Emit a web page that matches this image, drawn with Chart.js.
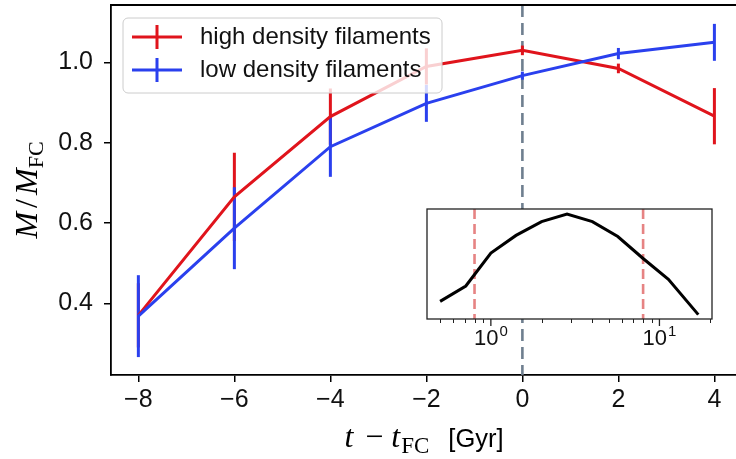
<!DOCTYPE html>
<html>
<head>
<meta charset="utf-8">
<script src="https://cdn.jsdelivr.net/npm/chart.js@4.4.1/dist/chart.umd.min.js"></script>
<style>
body { margin: 0; background: #fff; }
#wrap { position: relative; width: 736px; height: 459px; overflow: hidden; }
#mainChart { position: absolute; left: 0; top: 0; }
#insetChart { position: absolute; left: 420px; top: 200px; }
</style>
</head>
<body>
<div id="wrap">
  <canvas id="mainChart" width="736" height="459"></canvas>
  <canvas id="insetChart" width="310" height="155"></canvas>
</div>
<script>
// main panel: mass relative to filament-crossing mass vs time
const times = [-8, -6, -4, -2, 0, 2, 4];
const highMass = [0.37, 0.665, 0.865, 0.99, 1.03, 0.985, 0.866];
const highErr = [0.08, 0.11, 0.07, 0.045, 0.012, 0.012, 0.07];
const lowMass = [0.368, 0.587, 0.79, 0.898, 0.967, 1.022, 1.05];
const lowErr = [0.102, 0.102, 0.075, 0.046, 0.01, 0.014, 0.046];
const xTicks = [-8, -6, -4, -2, 0, 2, 4];
const yTicks = [0.4, 0.6, 0.8, 1.0];
const markTime = 0;

// inset: distribution (log x)
const insetX = [0.5, 0.71, 1.0, 1.41, 2.0, 2.83, 4.0, 5.66, 8.0, 11.3, 17.0];
const insetY = [0.16, 0.30, 0.60, 0.76, 0.885, 0.955, 0.885, 0.75, 0.55, 0.36, 0.04];
const insetMarks = [0.8, 8.0];
const insetMajor = [1, 10];
const insetMinor = [0.5, 0.6, 0.7, 0.8, 0.9, 2, 3, 4, 5, 6, 7, 8, 9, 20];

const RED = '#e0141c';
const BLUE = '#2a40ee';
const SANS = '"Liberation Sans", Arial, sans-serif';
const SERIF = '"Liberation Serif", "Times New Roman", serif';

const series = [
  { label: 'high density filaments', color: RED, y: highMass, err: highErr },
  { label: 'low density filaments', color: BLUE, y: lowMass, err: lowErr }
];

const mainDecor = {
  id: 'mainDecor',
  beforeDatasetsDraw(chart) {
    const { ctx, chartArea: a, scales: { x, y } } = chart;
    // vertical marker at t = t_FC
    ctx.save();
    ctx.strokeStyle = '#6f7f8f';
    ctx.lineWidth = 2.6;
    ctx.setLineDash([12, 6]);
    const mx = x.getPixelForValue(markTime);
    ctx.beginPath();
    ctx.moveTo(mx, a.top);
    ctx.lineTo(mx, a.bottom);
    ctx.stroke();
    ctx.restore();
    // error bars
    ctx.save();
    ctx.lineWidth = 3;
    series.forEach(s => {
      ctx.strokeStyle = s.color;
      times.forEach((t, i) => {
        const px = x.getPixelForValue(t);
        ctx.beginPath();
        ctx.moveTo(px, y.getPixelForValue(s.y[i] - s.err[i]));
        ctx.lineTo(px, y.getPixelForValue(s.y[i] + s.err[i]));
        ctx.stroke();
      });
    });
    ctx.restore();
  },
  afterDatasetsDraw(chart) {
    const { ctx } = chart;
    ctx.save();
    // legend box
    const bx = 123, by = 18, bw = 319, bh = 75, r = 5;
    ctx.beginPath();
    ctx.roundRect(bx, by, bw, bh, r);
    ctx.fillStyle = 'rgba(255,255,255,0.8)';
    ctx.fill();
    ctx.strokeStyle = '#cccccc';
    ctx.lineWidth = 1;
    ctx.stroke();
    series.forEach((s, i) => {
      const cy = 37 + i * 33;
      ctx.strokeStyle = s.color;
      ctx.lineWidth = 3;
      ctx.beginPath();
      ctx.moveTo(132, cy);
      ctx.lineTo(182, cy);
      ctx.moveTo(157, cy - 12);
      ctx.lineTo(157, cy + 12);
      ctx.stroke();
      ctx.fillStyle = '#111';
      ctx.font = '24px ' + SANS;
      ctx.textBaseline = 'middle';
      ctx.textAlign = 'left';
      ctx.fillText(s.label, 200, cy);
    });
    ctx.restore();
  },
  afterDraw(chart) {
    const { ctx, chartArea: a } = chart;
    ctx.save();
    ctx.strokeStyle = '#000';
    ctx.lineWidth = 1.8;
    ctx.beginPath();
    ctx.moveTo(a.left, a.top);
    ctx.lineTo(a.right + 2, a.top);
    ctx.stroke();

    ctx.fillStyle = '#000';
    ctx.textBaseline = 'alphabetic';
    ctx.textAlign = 'left';
    // x title: t - t_FC [Gyr]
    const xParts = [
      { t: 't', f: 'italic 32px ' + SERIF, dy: 0, gap: 12 },
      { t: '\u2212', f: '32px ' + SERIF, dy: 0, gap: 8 },
      { t: 't', f: 'italic 32px ' + SERIF, dy: 0, gap: 1 },
      { t: 'FC', f: '23px ' + SERIF, dy: 6, gap: 19 },
      { t: '[Gyr]', f: '25.5px ' + SANS, dy: 0, gap: 0 }
    ];
    drawParts(ctx, xParts, (a.left + 737) / 2, 447);
    // y title: M / M_FC (rotated)
    ctx.translate(37, (a.top + a.bottom) / 2);
    ctx.rotate(-Math.PI / 2);
    const yParts = [
      { t: 'M', f: 'italic 32px ' + SERIF, dy: 0, gap: 4 },
      { t: '/', f: '32px ' + SERIF, dy: 0, gap: 4 },
      { t: 'M', f: 'italic 32px ' + SERIF, dy: 0, gap: 0 },
      { t: 'FC', f: '22px ' + SERIF, dy: 6, gap: 0 }
    ];
    drawParts(ctx, yParts, 0, 0);
    ctx.restore();
  }
};

function drawParts(ctx, parts, cx, baseY) {
  let total = 0;
  parts.forEach(p => { ctx.font = p.f; p.w = ctx.measureText(p.t).width; total += p.w + p.gap; });
  let px = cx - total / 2;
  parts.forEach(p => {
    ctx.font = p.f;
    ctx.fillText(p.t, px, baseY + p.dy);
    px += p.w + p.gap;
  });
}

new Chart(document.getElementById('mainChart').getContext('2d'), {
  type: 'line',
  data: {
    datasets: series.map((s, i) => ({
      label: s.label,
      data: times.map((t, k) => ({ x: t, y: s.y[k] })),
      borderColor: s.color,
      borderWidth: 3,
      pointRadius: 0,
      tension: 0,
      fill: false,
      order: i === 0 ? 1 : 0
    }))
  },
  options: {
    responsive: false,
    animation: false,
    devicePixelRatio: 1,
    layout: { padding: { top: 5, right: 0, left: 0, bottom: 0 } },
    plugins: { legend: { display: false }, tooltip: { enabled: false } },
    scales: {
      x: {
        type: 'linear',
        min: -8.57,
        max: 4.45,
        afterBuildTicks: s => { s.ticks = xTicks.map(v => ({ value: v })); },
        afterFit: s => { s.height = 84; s.paddingLeft = 0; s.paddingRight = 0; },
        ticks: {
          font: { family: SANS, size: 25 },
          color: '#111',
          padding: 3,
          maxRotation: 0,
          autoSkip: false,
          callback: v => (v < 0 ? '\u2212' + Math.abs(v) : String(v))
        },
        grid: { drawOnChartArea: false, tickLength: 7, color: '#000', lineWidth: 1.5 },
        border: { color: '#000', width: 1.8 }
      },
      y: {
        min: 0.2214,
        max: 1.143,
        afterBuildTicks: s => { s.ticks = yTicks.map(v => ({ value: v })); },
        afterFit: s => { s.width = 111; s.paddingTop = 0; s.paddingBottom = 0; },
        ticks: {
          font: { family: SANS, size: 25 },
          color: '#111',
          padding: 11,
          autoSkip: false,
          callback: v => v.toFixed(1)
        },
        grid: { drawOnChartArea: false, tickLength: 7, color: '#000', lineWidth: 1.5 },
        border: { color: '#000', width: 1.8 }
      }
    }
  },
  plugins: [mainDecor]
});

const insetDecor = {
  id: 'insetDecor',
  beforeDraw(chart) {
    const { ctx, chartArea: a } = chart;
    ctx.save();
    ctx.fillStyle = '#fff';
    ctx.fillRect(a.left, a.top, a.right - a.left, a.bottom - a.top);
    ctx.restore();
  },
  beforeDatasetsDraw(chart) {
    const { ctx, chartArea: a, scales: { x } } = chart;
    ctx.save();
    ctx.strokeStyle = 'rgba(222,90,90,0.75)';
    ctx.lineWidth = 2.6;
    ctx.setLineDash([10, 5]);
    insetMarks.forEach(v => {
      const px = x.getPixelForValue(v);
      ctx.beginPath();
      ctx.moveTo(px, a.top);
      ctx.lineTo(px, a.bottom);
      ctx.stroke();
    });
    ctx.restore();
  },
  afterDraw(chart) {
    const { ctx, chartArea: a, scales: { x } } = chart;
    ctx.save();
    ctx.strokeStyle = '#222';
    ctx.lineWidth = 1.3;
    ctx.strokeRect(a.left, a.top, a.right - a.left, a.bottom - a.top);
    ctx.lineWidth = 1;
    insetMinor.forEach(v => {
      const px = Math.round(x.getPixelForValue(v)) + 0.5;
      ctx.beginPath();
      ctx.moveTo(px, a.bottom);
      ctx.lineTo(px, a.bottom + 4);
      ctx.stroke();
    });
    ctx.lineWidth = 1.3;
    ctx.fillStyle = '#111';
    ctx.textBaseline = 'alphabetic';
    ctx.textAlign = 'left';
    insetMajor.forEach(v => {
      const px = x.getPixelForValue(v);
      ctx.beginPath();
      ctx.moveTo(px, a.bottom);
      ctx.lineTo(px, a.bottom + 7);
      ctx.stroke();
      const exp = String(Math.round(Math.log10(v)));
      ctx.font = '22px ' + SANS;
      const w1 = ctx.measureText('10').width;
      ctx.font = '15px ' + SANS;
      const w2 = ctx.measureText(exp).width;
      const sx = px - (w1 + w2 + 1) / 2;
      ctx.font = '22px ' + SANS;
      ctx.fillText('10', sx, a.bottom + 26);
      ctx.font = '15px ' + SANS;
      ctx.fillText(exp, sx + w1 + 1, a.bottom + 17);
    });
    ctx.restore();
  }
};

new Chart(document.getElementById('insetChart').getContext('2d'), {
  type: 'line',
  data: {
    datasets: [{
      data: insetX.map((v, i) => ({ x: v, y: insetY[i] })),
      borderColor: '#000',
      borderWidth: 3,
      pointRadius: 0,
      tension: 0,
      fill: false
    }]
  },
  options: {
    responsive: false,
    animation: false,
    devicePixelRatio: 1,
    layout: { padding: { left: 7, top: 9, right: 18, bottom: 36 } },
    plugins: { legend: { display: false }, tooltip: { enabled: false } },
    scales: {
      x: { type: 'logarithmic', min: 0.418, max: 20.5, display: false },
      y: { min: 0, max: 1, display: false }
    }
  },
  plugins: [insetDecor]
});
</script>
</body>
</html>
